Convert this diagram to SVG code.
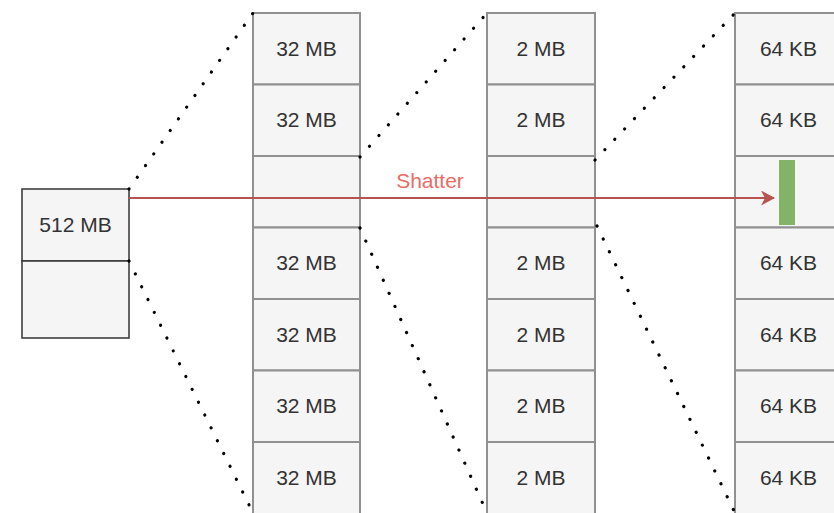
<svg xmlns="http://www.w3.org/2000/svg" width="834" height="513" viewBox="0 0 834 513">
  <defs>
    <style>
      .cell { fill: #f5f5f5; stroke: #909090; stroke-width: 2; }
      .root { fill: #f5f5f5; stroke: #333333; stroke-width: 1.5; }
      .lbl { font-family: "Liberation Sans", Arial, sans-serif; font-size: 21px; fill: #333333; text-anchor: middle; dominant-baseline: central; }
      .dots { stroke: #000000; stroke-width: 3.2; stroke-dasharray: 0.1 14.2; stroke-linecap: round; fill: none; }
      .shatter { stroke: #b85450; stroke-width: 2; fill: none; }
    </style>
    <marker id="arrowRed" viewBox="0 0 14 15" refX="13" refY="7.5" markerWidth="14" markerHeight="15" markerUnits="userSpaceOnUse" orient="auto">
      <path d="M0,0 L14,7.5 L0,15 L4,7.5 Z" fill="#b85450"/>
    </marker>
  </defs>
  <rect width="834" height="513" fill="#ffffff"/>

  <!-- 512 MB block -->
  <g id="block512">
    <rect class="root" x="22" y="189" width="107" height="72"/>
    <rect class="root" x="22" y="261" width="107" height="77"/>
    <text class="lbl" x="75.5" y="224.5">512 MB</text>
  </g>

  <!-- 32 MB column -->
  <g id="col32">
    <rect class="cell" x="253" y="13" width="107" height="71.5"/>
    <rect class="cell" x="253" y="84.5" width="107" height="71.5"/>
    <rect class="cell" x="253" y="156" width="107" height="71.5"/>
    <rect class="cell" x="253" y="227.5" width="107" height="71.5"/>
    <rect class="cell" x="253" y="299" width="107" height="71.5"/>
    <rect class="cell" x="253" y="370.5" width="107" height="71.5"/>
    <rect class="cell" x="253" y="442" width="107" height="75"/>
    <text class="lbl" x="306.5" y="48">32 MB</text>
    <text class="lbl" x="306.5" y="119.5">32 MB</text>
    <text class="lbl" x="306.5" y="262.5">32 MB</text>
    <text class="lbl" x="306.5" y="334">32 MB</text>
    <text class="lbl" x="306.5" y="405.5">32 MB</text>
    <text class="lbl" x="306.5" y="477">32 MB</text>
  </g>

  <!-- 2 MB column -->
  <g id="col2">
    <rect class="cell" x="487" y="13" width="108" height="71.5"/>
    <rect class="cell" x="487" y="84.5" width="108" height="71.5"/>
    <rect class="cell" x="487" y="156" width="108" height="71.5"/>
    <rect class="cell" x="487" y="227.5" width="108" height="71.5"/>
    <rect class="cell" x="487" y="299" width="108" height="71.5"/>
    <rect class="cell" x="487" y="370.5" width="108" height="71.5"/>
    <rect class="cell" x="487" y="442" width="108" height="75"/>
    <text class="lbl" x="541" y="48">2 MB</text>
    <text class="lbl" x="541" y="119.5">2 MB</text>
    <text class="lbl" x="541" y="262.5">2 MB</text>
    <text class="lbl" x="541" y="334">2 MB</text>
    <text class="lbl" x="541" y="405.5">2 MB</text>
    <text class="lbl" x="541" y="477">2 MB</text>
  </g>

  <!-- 64 KB column -->
  <g id="col64">
    <rect class="cell" x="735" y="13" width="107" height="71.5"/>
    <rect class="cell" x="735" y="84.5" width="107" height="71.5"/>
    <rect class="cell" x="735" y="156" width="107" height="71.5"/>
    <rect class="cell" x="735" y="227.5" width="107" height="71.5"/>
    <rect class="cell" x="735" y="299" width="107" height="71.5"/>
    <rect class="cell" x="735" y="370.5" width="107" height="71.5"/>
    <rect class="cell" x="735" y="442" width="107" height="75"/>
    <text class="lbl" x="788.5" y="48">64 KB</text>
    <text class="lbl" x="788.5" y="119.5">64 KB</text>
    <text class="lbl" x="788.5" y="262.5">64 KB</text>
    <text class="lbl" x="788.5" y="334">64 KB</text>
    <text class="lbl" x="788.5" y="405.5">64 KB</text>
    <text class="lbl" x="788.5" y="477">64 KB</text>
  </g>

  <!-- target chunk -->
  <g id="chunk">
    <rect x="779" y="160" width="16" height="65" fill="#82b366"/>
  </g>

  <!-- connectors -->
  <g id="connectors">
    <path class="dots" d="M129,189 L253,13"/>
    <path class="dots" d="M129,261 L253,513"/>
    <path class="dots" d="M360,157 L487,13"/>
    <path class="dots" d="M360,228 L487,513"/>
    <path class="dots" d="M595,160 L735,13"/>
    <path class="dots" d="M597,226 L735,513"/>
    <path class="shatter" d="M129,198 L774,198" marker-end="url(#arrowRed)"/>
    <text x="430" y="180" font-family="'Liberation Sans', Arial, sans-serif" font-size="21" fill="#ea6b66" text-anchor="middle" dominant-baseline="central">Shatter</text>
  </g>
</svg>
